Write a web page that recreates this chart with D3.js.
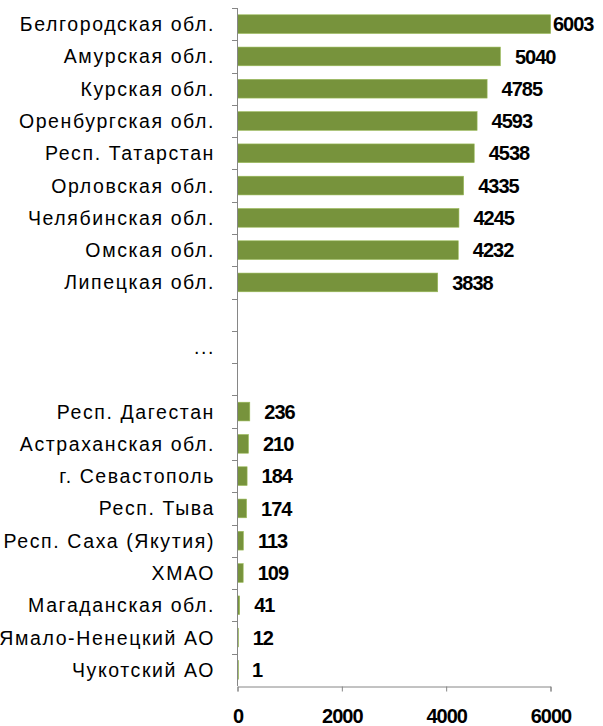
<!DOCTYPE html>
<html>
<head>
<meta charset="utf-8">
<script src="https://cdn.jsdelivr.net/npm/d3@7"></script>
<style>
  body { margin: 0; background: #fff; }
  text { font-family: "Liberation Sans", Arial, sans-serif; }
  .cat { font-size: 19.5px; letter-spacing: 1.6px; fill: #000; }
  .val { font-size: 20px; font-weight: bold; letter-spacing: -1px; fill: #000; }
  .tick text { font-size: 20px; font-weight: bold; letter-spacing: -1px; fill: #000; }
</style>
</head>
<body>
<div id="wrapper"></div>
<script>
// region names, top to bottom (gap rows are left empty)
const regions = [
    "Белгородская обл.", "Амурская обл.", "Курская обл.", "Оренбургская обл.",
    "Респ. Татарстан", "Орловская обл.", "Челябинская обл.", "Омская обл.",
    "Липецкая обл.", "gap1", "...", "gap2",
    "Респ. Дагестан", "Астраханская обл.", "г. Севастополь", "Респ. Тыва",
    "Респ. Саха (Якутия)", "ХМАО", "Магаданская обл.", "Ямало-Ненецкий АО",
    "Чукотский АО"
]
const values = [
    6003, 5040, 4785, 4593, 4538, 4335, 4245, 4232, 3838,
    null, null, null,
    236, 210, 184, 174, 113, 109, 41, 12, 1
]
const xTicks = [0, 2000, 4000, 6000]

function drawBars() {

    const dataset = regions.map((r, i) => ({ region: r, value: values[i] }))

    let dimensions = {
        width: 603,
        height: 726,
        margin: { top: 8, right: 53, bottom: 40, left: 237 },
    }
    dimensions.boundedWidth = dimensions.width - dimensions.margin.left - dimensions.margin.right
    dimensions.boundedHeight = dimensions.height - dimensions.margin.top - dimensions.margin.bottom

    const wrapper = d3.select("#wrapper")
        .append("svg")
        .attr("width", dimensions.width)
        .attr("height", dimensions.height)

    const bounds = wrapper.append("g")
        .attr("transform", `translate(${dimensions.margin.left}, ${dimensions.margin.top})`)

    // scales
    const xScale = d3.scaleLinear()
        .domain([0, 6000])
        .range([0, dimensions.boundedWidth])

    const yScale = d3.scaleBand()
        .domain(regions)
        .range([0, dimensions.boundedHeight])
        .paddingInner(0.42)
        .paddingOuter(0.21)

    const step = yScale.step()

    // bars
    bounds.selectAll("rect")
        .data(dataset.filter(d => d.value != null))
        .enter().append("rect")
        .attr("x", 0.5)
        .attr("y", d => yScale(d.region))
        .attr("width", d => Math.max(1, xScale(d.value)))
        .attr("height", yScale.bandwidth())
        .attr("fill", "#77933c")
        .attr("stroke", "#9bbb59")
        .attr("stroke-width", 0.6)

    // value labels
    bounds.selectAll(".val")
        .data(dataset.filter(d => d.value != null))
        .enter().append("text")
        .attr("class", "val")
        .attr("x", d => Math.min(xScale(d.value) + 15, dimensions.boundedWidth + 3))
        .attr("y", d => yScale(d.region) + yScale.bandwidth() / 2)
        .attr("dy", "0.36em")
        .text(d => d.value)

    // category labels
    bounds.selectAll(".cat")
        .data(dataset.filter(d => !d.region.startsWith("gap")))
        .enter().append("text")
        .attr("class", "cat")
        .attr("x", -22)
        .attr("y", d => yScale(d.region) + yScale.bandwidth() / 2)
        .attr("dy", "0.36em")
        .attr("text-anchor", "end")
        .text(d => d.region)

    // y axis line with ticks between categories
    const axisColor = "#868686"
    bounds.append("line")
        .attr("x1", 0.5).attr("x2", 0.5)
        .attr("y1", 0).attr("y2", dimensions.boundedHeight)
        .attr("stroke", axisColor)

    bounds.selectAll(".ytick")
        .data(d3.range(regions.length))
        .enter().append("line")
        .attr("class", "ytick")
        .attr("x1", -5).attr("x2", 0.5)
        .attr("y1", i => Math.round(i * step) + 0.5)
        .attr("y2", i => Math.round(i * step) + 0.5)
        .attr("stroke", axisColor)

    // x axis
    const xAxis = d3.axisBottom(xScale)
        .tickValues(xTicks)
        .tickSize(5)
        .tickPadding(17)
        .tickFormat(d3.format("d"))

    const xAxisGroup = bounds.append("g")
        .attr("transform", `translate(0.5, ${dimensions.boundedHeight + 0.5})`)
        .call(xAxis)
    xAxisGroup.select(".domain").attr("stroke", axisColor)
    xAxisGroup.selectAll(".tick line").attr("stroke", axisColor)
}

drawBars()
</script>
</body>
</html>
